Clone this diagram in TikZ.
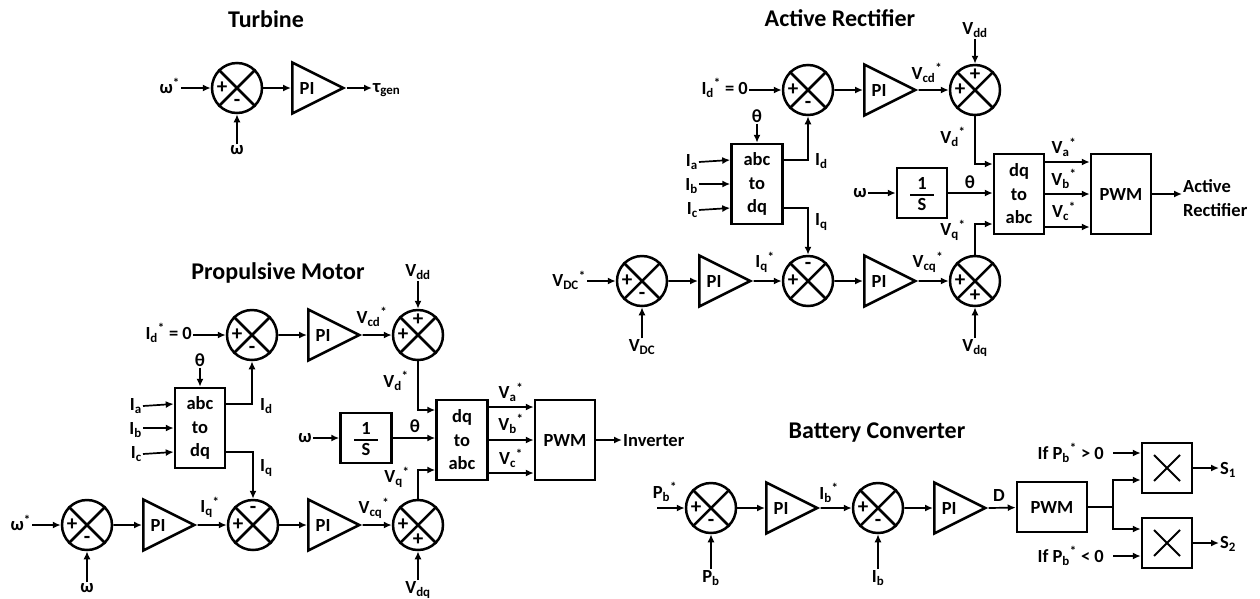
\documentclass[tikz,border=0pt]{standalone}
\usepackage{fontspec}
\setmainfont{Carlito}
\usetikzlibrary{shapes.geometric, arrows.meta}

\newcommand\lblfont{\fontsize{18.5}{20}\selectfont\bfseries}
\newcommand\blkfont{\fontsize{18.5}{23.5}\selectfont\bfseries}
\newcommand\sgnfont{\fontsize{21}{21}\selectfont\bfseries}
\newcommand\ttlfont{\fontsize{24}{26}\selectfont\bfseries}

\tikzset{
  sum/.style = {circle, draw, line width=2.5pt, minimum size=50pt, inner sep=0pt},
  pib/.style = {isosceles triangle, isosceles triangle stretches, draw, line width=2.5pt,
    minimum width=51pt, minimum height=51pt, inner sep=0pt, anchor=west, font=\lblfont},
  blk/.style = {rectangle, draw, line width=2.5pt, inner sep=0pt, align=center, font=\blkfont},
  arr/.style = {-{Latex[length=8pt,width=7pt]}, line width=1.7pt},
  lbl/.style = {font=\lblfont, inner sep=1pt},
  sgn/.style = {font=\sgnfont, inner sep=0pt},
  ttl/.style = {font=\ttlfont},
}

\begin{document}
\begin{tikzpicture}[x=1pt, y=-1pt]
\path[use as bounding box, fill=white] (0,0) rectangle (1260,598);

% Turbine
\node[ttl] (tT) at (266, 19) {Turbine};
\node[sum] (sT) at (237, 88) {};
\node[pib] (piT) at (291, 88) {PI};
\node[lbl, anchor=east] (wrT) at (181, 86) {ω\textsuperscript{*}};
\node[lbl] (wT) at (237, 150) {ω};
\node[lbl, anchor=west] (tauT) at (372, 90) {τ\textsubscript{gen}};
\draw[arr] (wrT.east |- sT) -- (sT);
\draw[arr] (wT) -- (sT);
\draw[arr] (sT) -- (piT);
\draw[arr] (piT.apex) -- (piT.apex -| tauT.west);

% Propulsive Motor
\node[ttl] (tM) at (278, 273) {Propulsive Motor};
\node[sum] (sMd) at (252, 335) {};
\node[pib] (piMd) at (307, 335) {PI};
\node[sum] (sMvd) at (418, 335) {};
\node[lbl, anchor=east] (idM) at (193, 333) {I\textsubscript{d}\textsuperscript{*} = 0};
\node[lbl] (vcdM) at (372, 317) {V\textsubscript{cd}\textsuperscript{*}};
\node[lbl] (vddM) at (418, 272) {V\textsubscript{dd}};
\node[blk, minimum width=50pt, minimum height=80pt] (abcM) at (200, 428) {abc\\to\\dq};
\node[lbl] (thM) at (200, 360) {θ};
\node[lbl, anchor=east] (iaM) at (143, 406) {I\textsubscript{a}};
\node[lbl, anchor=east] (ibM) at (143, 430) {I\textsubscript{b}};
\node[lbl, anchor=east] (icM) at (143, 454) {I\textsubscript{c}};
\node[lbl, anchor=west] (idlM) at (259, 406) {I\textsubscript{d}};
\node[lbl, anchor=west] (iqlM) at (259, 468) {I\textsubscript{q}};
\node[sum] (sMw) at (87, 525) {};
\node[lbl, anchor=east] (wrM) at (32, 523) {ω\textsuperscript{*}};
\node[lbl] (wM) at (87, 588) {ω};
\node[pib] (piMw) at (142, 525) {PI};
\node[lbl] (iqrM) at (210, 507) {I\textsubscript{q}\textsuperscript{*}};
\node[sum] (sMq) at (253, 525) {};
\node[pib] (piMq) at (307, 525) {PI};
\node[lbl] (vcqM) at (374, 508) {V\textsubscript{cq}\textsuperscript{*}};
\node[sum] (sMvq) at (418, 525) {};
\node[lbl] (vdqM) at (418, 590) {V\textsubscript{dq}};
\node[lbl] (wsM) at (305, 438) {ω};
\node[blk, minimum width=51pt, minimum height=50pt] (intM) at (366, 438) {};
\node[lbl] (onM) at ([yshift=10pt]intM.center) {1};
\node[lbl] (sdM) at ([yshift=-11pt]intM.center) {S};
\draw[line width=1.5pt] ([xshift=-12pt, yshift=-2pt]intM.center) -- ([xshift=12pt, yshift=-2pt]intM.center);
\node[lbl] (th2M) at (415, 426) {θ};
\node[blk, minimum width=51pt, minimum height=80pt] (dqM) at (462, 440) {dq\\to\\abc};
\node[lbl] (vdM) at (396, 381) {V\textsubscript{d}\textsuperscript{*}};
\node[lbl] (vqM) at (397, 477) {V\textsubscript{q}\textsuperscript{*}};
\node[blk, minimum width=60pt, minimum height=80pt] (pwmM) at (565, 440) {PWM};
\node[lbl] (vaM) at (511, 392) {V\textsubscript{a}\textsuperscript{*}};
\node[lbl] (vbM) at (511, 424) {V\textsubscript{b}\textsuperscript{*}};
\node[lbl] (vcM) at (511, 458) {V\textsubscript{c}\textsuperscript{*}};
\node[lbl, anchor=west] (invM) at (622, 441) {Inverter};

\draw[arr] (idM.east |- sMd) -- (sMd);
\draw[arr] (sMd) -- (piMd);
\draw[arr] (piMd.apex) -- (sMvd);
\draw[arr] (vddM) -- (sMvd);
\draw[arr] (thM) -- (abcM);
\draw[arr] (iaM.east) -- ([yshift=24pt]abcM.west);
\draw[arr] (ibM.east |- abcM) -- (abcM.west);
\draw[arr] (icM.east) -- ([yshift=-24pt]abcM.west);
\draw[arr] ([yshift=24pt]abcM.east) -| (sMd.south);
\draw[arr] ([yshift=-24pt]abcM.east) -| (sMq.north);
\draw[arr] (wrM.east |- sMw) -- (sMw);
\draw[arr] (wM) -- (sMw);
\draw[arr] (sMw) -- (piMw);
\draw[arr] (piMw.apex) -- (sMq);
\draw[arr] (sMq) -- (piMq);
\draw[arr] (piMq.apex) -- (sMvq);
\draw[arr] (vdqM) -- (sMvq);
\draw[arr] (wsM) -- (intM);
\draw[arr] (intM.east) -- (intM.east -| dqM.west);
\draw[arr] (sMvd.south) |- ([yshift=30pt]dqM.west);
\draw[arr] (sMvq.north) |- ([yshift=-30pt]dqM.west);
\foreach \k in {33, 0, -33}
  \draw[arr] ([yshift=\k pt]dqM.east) -- ([yshift=\k pt]pwmM.west);
\draw[arr] (pwmM.east) -- (pwmM.east -| invM.west);

% Active Rectifier
\node[ttl] (tR) at (840, 18) {Active Rectifier};
\node[sum] (sRd) at (808, 90) {};
\node[pib] (piRd) at (863, 90) {PI};
\node[sum] (sRvd) at (975, 90) {};
\node[lbl, anchor=east] (idR) at (749, 88) {I\textsubscript{d}\textsuperscript{*} = 0};
\node[lbl] (vcdR) at (927, 73) {V\textsubscript{cd}\textsuperscript{*}};
\node[lbl] (vddR) at (975, 30) {V\textsubscript{dd}};
\node[blk, minimum width=51pt, minimum height=80pt] (abcR) at (757, 184) {abc\\to\\dq};
\node[lbl] (thR) at (757, 116) {θ};
\node[lbl, anchor=east] (iaR) at (699, 162) {I\textsubscript{a}};
\node[lbl, anchor=east] (ibR) at (699, 186) {I\textsubscript{b}};
\node[lbl, anchor=east] (icR) at (699, 210) {I\textsubscript{c}};
\node[lbl, anchor=west] (idlR) at (814, 161) {I\textsubscript{d}};
\node[lbl, anchor=west] (iqlR) at (814, 222) {I\textsubscript{q}};
\node[sum] (sRdc) at (642, 281) {};
\node[lbl, anchor=east] (vdcrR) at (587, 280) {V\textsubscript{DC}\textsuperscript{*}};
\node[lbl] (vdcR) at (642, 347) {V\textsubscript{DC}};
\node[pib] (piRdc) at (698, 281) {PI};
\node[lbl] (iqrR) at (765, 262) {I\textsubscript{q}\textsuperscript{*}};
\node[sum] (sRq) at (808, 281) {};
\node[pib] (piRq) at (863, 281) {PI};
\node[lbl] (vcqR) at (928, 262) {V\textsubscript{cq}\textsuperscript{*}};
\node[sum] (sRvq) at (975, 281) {};
\node[lbl] (vdqR) at (975, 348) {V\textsubscript{dq}};
\node[lbl] (wsR) at (860, 193) {ω};
\node[blk, minimum width=50pt, minimum height=50pt] (intR) at (922, 193) {};
\node[lbl] (onR) at ([yshift=10pt]intR.center) {1};
\node[lbl] (sdR) at ([yshift=-11pt]intR.center) {S};
\draw[line width=1.5pt] ([xshift=-12pt, yshift=-2pt]intR.center) -- ([xshift=12pt, yshift=-2pt]intR.center);
\node[lbl] (th2R) at (970, 182) {θ};
\node[blk, minimum width=50pt, minimum height=80pt] (dqR) at (1019, 194) {dq\\to\\abc};
\node[lbl] (vdR) at (953, 137) {V\textsubscript{d}\textsuperscript{*}};
\node[lbl] (vqR) at (953, 230) {V\textsubscript{q}\textsuperscript{*}};
\node[blk, minimum width=60pt, minimum height=80pt] (pwmR) at (1121, 194) {PWM};
\node[lbl] (vaR) at (1064, 147) {V\textsubscript{a}\textsuperscript{*}};
\node[lbl] (vbR) at (1064, 179) {V\textsubscript{b}\textsuperscript{*}};
\node[lbl] (vcR) at (1064, 211) {V\textsubscript{c}\textsuperscript{*}};
\node[lbl, anchor=west, align=left, font=\blkfont] (arR) at (1182, 198) {Active\\Rectifier};

\draw[arr] (idR.east |- sRd) -- (sRd);
\draw[arr] (sRd) -- (piRd);
\draw[arr] (piRd.apex) -- (sRvd);
\draw[arr] (vddR) -- (sRvd);
\draw[arr] (thR) -- (abcR);
\draw[arr] (iaR.east) -- ([yshift=24pt]abcR.west);
\draw[arr] (ibR.east |- abcR) -- (abcR.west);
\draw[arr] (icR.east) -- ([yshift=-24pt]abcR.west);
\draw[arr] ([yshift=24pt]abcR.east) -| (sRd.south);
\draw[arr] ([yshift=-24pt]abcR.east) -| (sRq.north);
\draw[arr] (vdcrR.east |- sRdc) -- (sRdc);
\draw[arr] (vdcR) -- (sRdc);
\draw[arr] (sRdc) -- (piRdc);
\draw[arr] (piRdc.apex) -- (sRq);
\draw[arr] (sRq) -- (piRq);
\draw[arr] (piRq.apex) -- (sRvq);
\draw[arr] (vdqR) -- (sRvq);
\draw[arr] (wsR) -- (intR);
\draw[arr] (intR.east) -- (intR.east -| dqR.west);
\draw[arr] (sRvd.south) |- ([yshift=30pt]dqR.west);
\draw[arr] (sRvq.north) |- ([yshift=-30pt]dqR.west);
\foreach \k in {32, 0, -33}
  \draw[arr] ([yshift=\k pt]dqR.east) -- ([yshift=\k pt]pwmR.west);
\draw[arr] (pwmR.east) -- (pwmR.east -| arR.west);

% Battery Converter
\node[ttl] (tB) at (877, 433) {Battery Converter};
\coordinate (pbin) at (657, 508);
\node[lbl] (pbrB) at (665, 492) {P\textsubscript{b}\textsuperscript{*}};
\node[sum] (sB1) at (711, 508) {};
\node[lbl] (pbB) at (711, 578) {P\textsubscript{b}};
\node[pib] (piB1) at (765, 508) {PI};
\node[lbl] (ibrB) at (829, 493) {I\textsubscript{b}\textsuperscript{*}};
\node[sum] (sB2) at (878, 508) {};
\node[lbl] (ibB) at (878, 578) {I\textsubscript{b}};
\node[pib] (piB2) at (933, 508) {PI};
\node[lbl] (dB) at (999, 495) {D};
\node[blk, minimum width=70pt, minimum height=50pt] (pwmB) at (1052, 507) {PWM};
\coordinate (spl) at (1113, 507);
\node[blk, minimum width=50pt, minimum height=50pt] (mB1) at (1167, 468) {};
\node[blk, minimum width=50pt, minimum height=50pt] (mB2) at (1167, 543) {};
\node[lbl, anchor=east] (ifpB) at (1105, 453) {If P\textsubscript{b}\textsuperscript{*} > 0};
\node[lbl, anchor=east] (ifnB) at (1105, 556) {If P\textsubscript{b}\textsuperscript{*} < 0};
\node[lbl, anchor=west] (s1B) at (1219, 470) {S\textsubscript{1}};
\node[lbl, anchor=west] (s2B) at (1219, 544) {S\textsubscript{2}};

\draw[arr] (pbin) -- (sB1);
\draw[arr] (pbB) -- (sB1);
\draw[arr] (sB1) -- (piB1);
\draw[arr] (piB1.apex) -- (sB2);
\draw[arr] (ibB) -- (sB2);
\draw[arr] (sB2) -- (piB2);
\draw[arr] (piB2.apex) -- (pwmB);
\draw[line width=1.7pt] (pwmB.east) -- (spl);
\draw[arr] (spl) |- ([yshift=-12pt]mB1.west);
\draw[arr] (spl) |- ([yshift=14pt]mB2.west);
\draw[arr] (ifpB -| spl) -- (ifpB -| mB1.west);
\draw[arr] (ifnB -| spl) -- (ifnB -| mB2.west);
\draw[arr] (mB1.east) -- (mB1.east -| s1B.west);
\draw[arr] (mB2.east) -- (mB2.east -| s2B.west);

% crosses and signs
\foreach \s in {sT, sMd, sMvd, sMw, sMq, sMvq, sRd, sRvd, sRdc, sRq, sRvq, sB1, sB2} {
  \draw[line width=2.5pt] (\s.45) -- (\s.225) (\s.135) -- (\s.315);
  \node[sgn] at ([xshift=-15pt]\s.center) {+};
}
\foreach \s in {sT, sMd, sMw, sRd, sRdc, sB1, sB2}
  \node[sgn] at ([yshift=-15pt]\s.center) {-};
\foreach \s in {sMq, sRq}
  \node[sgn] at ([yshift=15pt]\s.center) {-};
\foreach \s in {sMvd, sRvd}
  \node[sgn] at ([yshift=15pt]\s.center) {+};
\foreach \s in {sMvq, sRvq}
  \node[sgn] at ([yshift=-15pt]\s.center) {+};
\foreach \m in {mB1, mB2}
  \draw[line width=2pt] ([shift={(-13pt,-13pt)}]\m.center) -- ([shift={(13pt,13pt)}]\m.center)
    ([shift={(-13pt,13pt)}]\m.center) -- ([shift={(13pt,-13pt)}]\m.center);
\end{tikzpicture}
\end{document}
